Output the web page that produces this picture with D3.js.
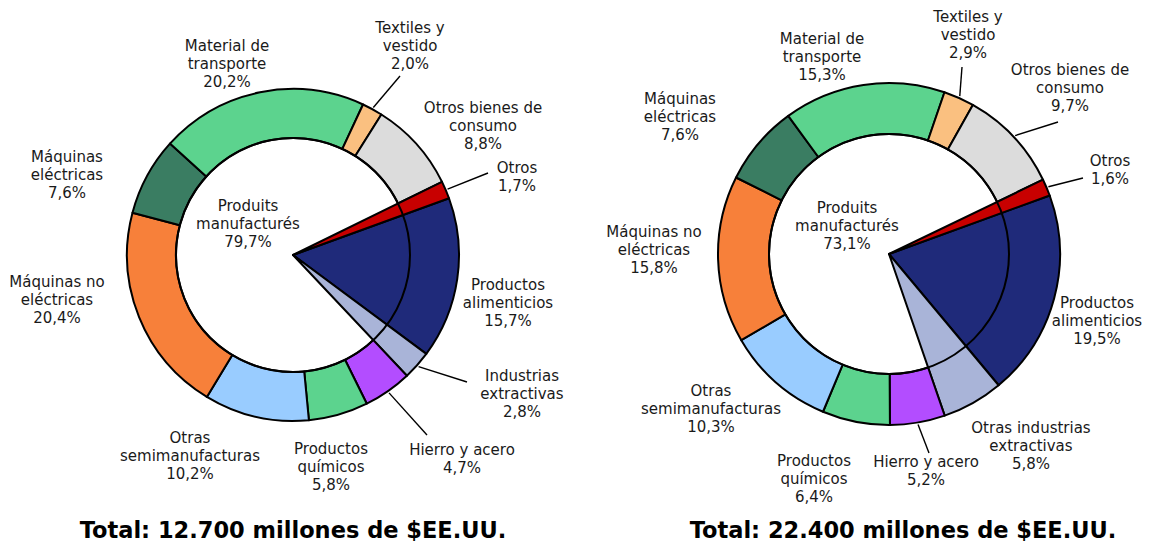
<!DOCTYPE html>
<html>
<head>
<meta charset="utf-8">
<script src="https://cdn.jsdelivr.net/npm/d3@7"></script>
<style>
    body { margin: 0; background: #fff; }
    svg { display: block; font-family: "DejaVu Sans", Verdana, sans-serif; }
    .lbl { font-size: 15px; fill: #1a1a1a; }
    .title { font-size: 22.5px; font-weight: bold; fill: #000; }
</style>
</head>
<body>
<svg id="chart" width="1153" height="544"></svg>
<script>
// slice order, clockwise from the first slice angle
const categories = ["Productos alimenticios", "Industrias extractivas", "Hierro y acero", "Productos químicos",
    "Otras semimanufacturas", "Máquinas no eléctricas", "Máquinas eléctricas", "Material de transporte",
    "Textiles y vestido", "Otros bienes de consumo", "Otros"];

const leftNames = [["Productos", "alimenticios"], ["Industrias", "extractivas"], ["Hierro y acero"],
    ["Productos", "químicos"], ["Otras", "semimanufacturas"], ["Máquinas no", "eléctricas"],
    ["Máquinas", "eléctricas"], ["Material de", "transporte"], ["Textiles y", "vestido"],
    ["Otros bienes de", "consumo"], ["Otros"]];
const rightNames = [["Productos", "alimenticios"], ["Otras industrias", "extractivas"], ["Hierro y acero"],
    ["Productos", "químicos"], ["Otras", "semimanufacturas"], ["Máquinas no", "eléctricas"],
    ["Máquinas", "eléctricas"], ["Material de", "transporte"], ["Textiles y", "vestido"],
    ["Otros bienes de", "consumo"], ["Otros"]];

const manufactured = [false, false, true, true, true, true, true, true, true, true, false];

const leftValues = [15.7, 2.8, 4.7, 5.8, 10.2, 20.4, 7.6, 20.2, 2.0, 8.8, 1.7];
const rightValues = [19.5, 5.8, 5.2, 6.4, 10.3, 15.8, 7.6, 15.3, 2.9, 9.7, 1.6];

const manufShare = [79.7, 73.1];
const totals = [12700, 22400];

const colors = ["#1f2a7a", "#a9b4d8", "#b34dff", "#5cd38e", "#99ccff", "#f7803a",
    "#3a7d62", "#5cd38e", "#fac080", "#dcdcdc", "#c80000"];

// layout (label block centre x / first baseline, relative to pie centre)
const layout = [
    {
        cx: 293, cy: 255, R: 166, r: 117, titleX: 293,
        labels: [[215, 35], [229, 126], [169, 200], [38, 199], [-103, 188], [-236, 32],
            [-226, -93], [-66, -204], [117, -222], [190, -142], [224, -82]],
        leaders: {1: [174, 127], 2: [134, 180], 8: [107, -179], 10: [195, -82]},
        centre: [-45, -44]
    },
    {
        cx: 889, cy: 254, R: 171, r: 120, titleX: 903,
        labels: [[208, 54], [142, 179], [37, 213], [-75, 212], [-178, 142], [-235, -17],
            [-209, -150], [-67, -210], [79, -232], [181, -179], [221, -88]],
        leaders: {2: [40, 199], 8: [73, -187], 9: [169, -132], 10: [194, -76]},
        centre: [-42, -41]
    }
];

const locale = d3.formatLocale({decimal: ",", thousands: ".", grouping: [3], currency: ["", "$"]});
const pct = v => locale.format(".1f")(v) + "%";
const thousands = locale.format(",d");

const startAngle = 70 * Math.PI / 180;
const lineH = 18;

const svg = d3.select("#chart");

const pie = d3.pie()
    .sort(null)
    .value(d => d.value)
    .startAngle(startAngle)
    .endAngle(startAngle + 2 * Math.PI);

function drawPie(cfg, values, names, share, total) {
    const g = svg.append("g").attr("transform", `translate(${cfg.cx},${cfg.cy})`);

    const data = values.map((v, i) => ({name: categories[i], value: v, i}));
    const slices = pie(data);

    g.selectAll("path.slice")
        .data(slices)
        .join("path")
        .attr("class", "slice")
        .attr("d", d => d3.arc()
            .innerRadius(manufactured[d.data.i] ? cfg.r : 0)
            .outerRadius(cfg.R)(d))
        .attr("fill", d => colors[d.data.i])
        .attr("stroke", "#000")
        .attr("stroke-width", 2)
        .attr("stroke-linejoin", "round");

    g.append("circle")
        .attr("r", cfg.r)
        .attr("fill", "none")
        .attr("stroke", "#000")
        .attr("stroke-width", 2);

    // leader lines
    slices.forEach(d => {
        const end = cfg.leaders[d.data.i];
        if (!end) return;
        const a = (d.startAngle + d.endAngle) / 2;
        g.append("line")
            .attr("x1", end[0]).attr("y1", end[1])
            .attr("x2", Math.sin(a) * (cfg.R + 2))
            .attr("y2", -Math.cos(a) * (cfg.R + 2))
            .attr("stroke", "#000")
            .attr("stroke-width", 1.4);
    });

    // labels
    slices.forEach(d => {
        const i = d.data.i;
        const pos = cfg.labels[i];
        const lines = names[i].concat([pct(d.data.value)]);
        const t = g.append("text")
            .attr("class", "lbl")
            .attr("text-anchor", "middle")
            .attr("x", pos[0])
            .attr("y", pos[1]);
        lines.forEach((s, k) => {
            t.append("tspan").attr("x", pos[0]).attr("dy", k ? lineH : 0).text(s);
        });
    });

    const c = g.append("text")
        .attr("class", "lbl")
        .attr("text-anchor", "middle")
        .attr("x", cfg.centre[0])
        .attr("y", cfg.centre[1]);
    ["Produits", "manufacturés", pct(share)].forEach((s, k) => {
        c.append("tspan").attr("x", cfg.centre[0]).attr("dy", k ? lineH : 0).text(s);
    });

    svg.append("text")
        .attr("class", "title")
        .attr("text-anchor", "middle")
        .attr("x", cfg.titleX)
        .attr("y", 538)
        .text(`Total: ${thousands(total)} millones de $EE.UU.`);
}

drawPie(layout[0], leftValues, leftNames, manufShare[0], totals[0]);
drawPie(layout[1], rightValues, rightNames, manufShare[1], totals[1]);
</script>
</body>
</html>
